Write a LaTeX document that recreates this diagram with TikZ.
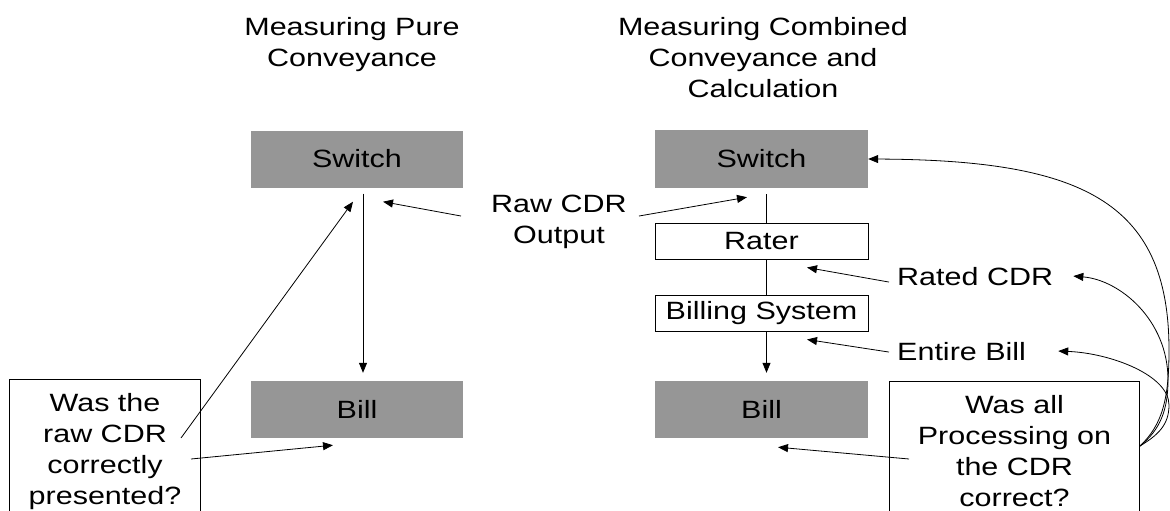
\documentclass[tikz,border=0pt]{standalone}
\usepackage{fontspec}
\setmainfont{Liberation Sans}[FakeStretch=1.22]
\usetikzlibrary{arrows.meta}
\definecolor{boxgray}{RGB}{150,150,150}
\begin{document}
\begin{tikzpicture}[x=1pt,y=-1pt,
  font=\fontsize{25}{31}\selectfont,
  graybox/.style={fill=boxgray, draw=none, minimum width=212pt, minimum height=57pt, inner sep=0pt},
  whitebox/.style={fill=white, draw=black, line width=1pt, minimum width=213pt, minimum height=36pt, inner sep=0pt},
  titletext/.style={anchor=north, align=center, inner sep=0pt},
  plaintext/.style={inner sep=0pt},
  qbox/.style={draw=black, line width=1pt, anchor=north west, align=center, inner xsep=0pt, inner ysep=14pt},
  arr/.style={-{Triangle[length=10pt,width=8pt]}, line width=0.8pt},
  conn/.style={line width=0.8pt}
]
\useasboundingbox (0,0) rectangle (1170,511);
\clip (0,0) rectangle (1170,511);

% titles
\node[titletext] (titleL) at (352,17) {Measuring Pure\\Conveyance};
\node[titletext] (titleR) at (763,17) {Measuring Combined\\Conveyance and\\Calculation};

% left column
\node[graybox] (swL) at (357,159) {Switch};
\node[graybox] (billL) at (357,409.5) {Bill};

% right column
\node[graybox, minimum width=213pt, minimum height=58pt] (swR) at (761.5,159) {Switch};
\node[whitebox] (rater) at (761.5,241) {Rater};
\node[whitebox] (billing) at (761.5,313) {Billing System};
\node[graybox, minimum width=213pt] (billR) at (761.5,409.5) {Bill};

% labels
\node[titletext] (raw) at (559,195) {Raw CDR\\Output};
\node[plaintext, anchor=base west] (rated) at (897,285) {Rated CDR};
\node[plaintext, anchor=base west] (entire) at (897,360) {Entire Bill};

% question boxes
\node[qbox, minimum width=191pt] (qL) at (9,379) {Was the\\raw CDR\\correctly\\presented?};
\node[qbox, minimum width=250pt] (qR) at (889,381) {Was all\\Processing on\\the CDR\\correct?};

% flow connectors
\draw[arr] ([xshift=6pt,yshift=-6pt]swL.south) -- ([xshift=6pt,yshift=8pt]billL.north);
\draw[conn] ([xshift=5pt,yshift=-6pt]swR.south) -- ([xshift=5pt]rater.north);
\draw[conn] ([xshift=5pt]rater.south) -- ([xshift=5pt]billing.north);
\draw[arr] ([xshift=5pt]billing.south) -- ([xshift=5pt,yshift=8pt]billR.north);

% label arrows
\draw[arr] ([xshift=-30pt,yshift=6pt]raw.west) -- ([xshift=26pt,yshift=-14pt]swL.south);
\draw[arr] ([xshift=12pt,yshift=6pt]raw.east) -- ([xshift=-14.5pt,yshift=-9pt]swR.south);
\draw[arr] ([xshift=-20pt,yshift=-59pt]qL.north east) -- ([xshift=-4pt,yshift=-14pt]swL.south);
\draw[arr] ([xshift=-10pt,yshift=-80pt]qL.north east) -- ([xshift=-24pt,yshift=-7pt]billL.south);
\draw[arr] ([xshift=-8pt,yshift=-6pt]rated.west) -- ([xshift=45.5pt,yshift=-8pt]rater.south);
\draw[arr] ([xshift=-8pt,yshift=-1pt]entire.west) -- ([xshift=45.5pt,yshift=-8pt]billing.south);
\draw[arr] ([xshift=20pt,yshift=-78pt]qR.north west) -- ([xshift=16.5pt,yshift=-9pt]billR.south);

% curved arrows from right question box
\draw[arr] ([yshift=-65pt]qR.north east) .. controls (1162,425) and (1169,400) .. (1169,350)
  .. controls (1169,200) and (1080,160) .. (swR.east);
\draw[arr] ([yshift=-65pt]qR.north east) .. controls (1160,430) and (1168,410) .. (1168,380)
  .. controls (1168,320) and (1120,280) .. ([xshift=20pt]rated.east);
\draw[arr] ([yshift=-65pt]qR.north east) .. controls (1158,435) and (1169,425) .. (1169,405)
  .. controls (1169,375) and (1110,353) .. ([xshift=32pt]entire.east);
\end{tikzpicture}
\end{document}
